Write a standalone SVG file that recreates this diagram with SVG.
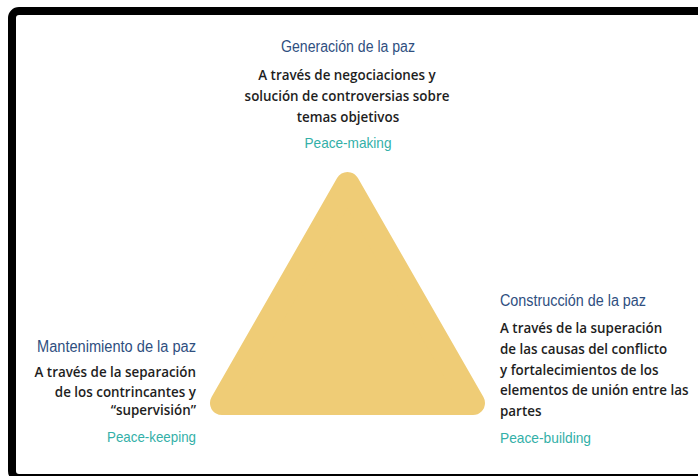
<svg xmlns="http://www.w3.org/2000/svg" width="698" height="476" viewBox="0 0 698 476">
<style>
.t{font-family:"Liberation Sans",Arial,sans-serif;font-size:16px;fill:#2f4f7f}
.b{font-family:"Open Sans","Liberation Sans",sans-serif;font-size:13.4px;font-weight:600;fill:#1e1e1e}
.p{font-family:"Liberation Sans",Arial,sans-serif;font-size:14.5px;fill:#33b0a8}
.m{text-anchor:middle}.e{text-anchor:end}
</style>
<rect width="698" height="476" fill="#fff"/>
<rect x="12" y="11" width="700" height="467" rx="7" fill="none" stroke="#000" stroke-width="8"/>
<g id="triangle">
<polygon points="347.5,184 222,403 473,403" fill="#efcc76" stroke="#efcc76" stroke-width="24" stroke-linejoin="round"/>
</g>
<g id="node-generacion">
<text class="t m" x="348" y="52" textLength="134" lengthAdjust="spacingAndGlyphs">Generación de la paz</text>
<text class="b m" x="347" y="80">A través de negociaciones y</text>
<text class="b m" x="347" y="101">solución de controversias sobre</text>
<text class="b m" x="348" y="122">temas objetivos</text>
<text class="p m" x="348" y="148" textLength="87" lengthAdjust="spacingAndGlyphs">Peace-making</text>
</g>
<g id="node-mantenimiento">
<text class="t e" x="196" y="352" textLength="159" lengthAdjust="spacingAndGlyphs">Mantenimiento de la paz</text>
<text class="b e" x="196" y="377">A través de la separación</text>
<text class="b e" x="196" y="397">de los contrincantes y</text>
<text class="b e" x="196" y="415">“supervisión”</text>
<text class="p e" x="196" y="442" textLength="89" lengthAdjust="spacingAndGlyphs">Peace-keeping</text>
</g>
<g id="node-construccion">
<text class="t" x="500" y="306" textLength="146" lengthAdjust="spacingAndGlyphs">Construcción de la paz</text>
<text class="b" x="500" y="333">A través de la superación</text>
<text class="b" x="500" y="354">de las causas del conflicto</text>
<text class="b" x="500" y="375">y fortalecimientos de los</text>
<text class="b" x="500" y="395">elementos de unión entre las</text>
<text class="b" x="500" y="416">partes</text>
<text class="p" x="500" y="443" textLength="91" lengthAdjust="spacingAndGlyphs">Peace-building</text>
</g>
<g id="connectors"></g>
</svg>
